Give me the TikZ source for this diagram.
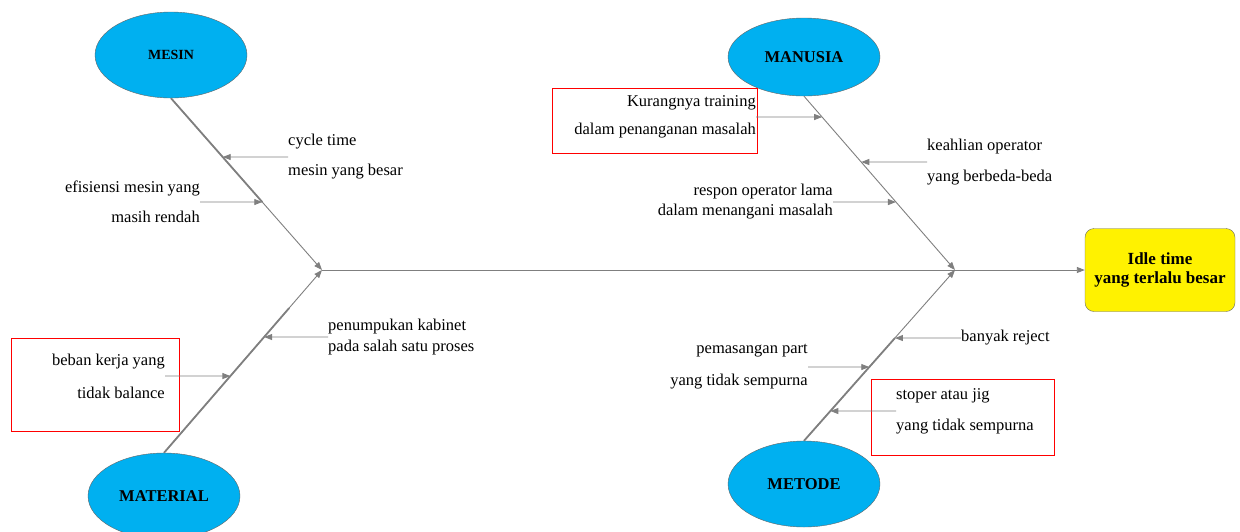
\documentclass[tikz,border=0pt]{standalone}
\usepackage{fontspec}
\setmainfont{Liberation Serif}
\usetikzlibrary{arrows.meta,shapes.geometric,positioning,calc}
\definecolor{birumuda}{HTML}{00B0F0}
\definecolor{garis}{HTML}{7F7F7F}

\begin{document}
\begin{tikzpicture}[x=1pt,y=-1pt,>={Triangle[length=8pt,width=6pt]}]
    \tikzstyle{kategori}=[ellipse,draw=black!60,fill=birumuda,minimum width=152pt,minimum height=86pt,inner sep=0pt,font=\bfseries\fontsize{16.5}{18}\selectfont]
    \tikzstyle{akibat}=[rectangle,rounded corners=9pt,draw=black!60,fill=yellow,minimum width=150pt,minimum height=83pt,align=center,font=\bfseries\fontsize{17}{19}\selectfont]
    \tikzstyle{sebab}=[inner sep=0pt,font=\fontsize{16.5}{30}\selectfont]
    \tikzstyle{kotak merah}=[draw=red,line width=0.8pt]
    \tikzstyle{tulang}=[draw=garis,line width=0.9pt]
    \tikzstyle{tulang tebal}=[draw=garis,line width=1.8pt]
    \tikzstyle{cabang}=[->,draw=garis,line width=0.9pt]

    \useasboundingbox (0,0) rectangle (1240,531);

    % Draw the head and the spine
    \coordinate (jA) at (322,270);
    \coordinate (jB) at (955,270);
    \node[akibat] (efek) at (1160,270) {Idle time\\yang terlalu besar};
    \draw[cabang] (jA) -- (efek);

    % Draw the category nodes
    \node[kategori,font=\bfseries\fontsize{14}{16}\selectfont] (mesin) at (171,55) {MESIN};
    \node[kategori,minimum height=78pt] (manusia) at (804,57) {MANUSIA};
    \node[kategori] (material) at (164,496) {MATERIAL};
    \node[kategori] (metode) at (804,484) {METODE};

    % Red boxes
    \draw[kotak merah] (552,88) rectangle (757,153);
    \draw[kotak merah] (11,338) rectangle (179,431);
    \draw[kotak merah] (871,379) rectangle (1054,455);

    % Cause texts
    \node[sebab,anchor=west,align=left] (ct) at (288,157) {cycle time\\mesin yang besar};
    \node[sebab,anchor=east,align=right] (ef) at (200,202) {efisiensi mesin yang\\masih rendah};
    \node[sebab,anchor=east,align=right,font=\fontsize{16.5}{28}\selectfont] (kt) at (756,117) {Kurangnya training\\dalam penanganan masalah};
    \node[sebab,anchor=west,align=left,font=\fontsize{16.5}{31}\selectfont] (ko) at (927,162) {keahlian operator\\yang berbeda-beda};
    \node[sebab,anchor=east,align=right,font=\fontsize{16.5}{20}\selectfont] (ro) at (833,202) {respon operator lama\\dalam menangani masalah};
    \node[sebab,anchor=west,align=left,font=\fontsize{16.5}{21}\selectfont] (pk) at (328,337) {penumpukan kabinet\\pada salah satu proses};
    \node[sebab,anchor=east,align=right,font=\fontsize{16.5}{33}\selectfont] (bk) at (165,376) {beban kerja yang\\tidak balance};
    \node[sebab,anchor=west] (br) at (961,338) {banyak reject};
    \node[sebab,anchor=east,align=right,font=\fontsize{16.5}{32}\selectfont] (pp) at (808,367) {pemasangan part\\yang tidak sempurna};
    \node[sebab,anchor=west,align=left,font=\fontsize{16.5}{31}\selectfont] (sj) at (896,411) {stoper atau jig\\yang tidak sempurna};

    % Points where the causes meet the bones
    \coordinate (tCt) at (intersection of ct.west--ct.east and mesin.south--jA);
    \coordinate (tEf) at (intersection of ef.west--ef.east and mesin.south--jA);
    \coordinate (tKt) at (intersection of kt.west--kt.east and manusia.south--jB);
    \coordinate (tKo) at (intersection of ko.west--ko.east and manusia.south--jB);
    \coordinate (tRo) at (intersection of ro.west--ro.east and manusia.south--jB);
    \coordinate (tPk) at (intersection of pk.west--pk.east and material.north--jA);
    \coordinate (tBk) at (intersection of bk.west--bk.east and material.north--jA);
    \coordinate (tBr) at (intersection of br.west--br.east and metode.north--jB);
    \coordinate (tPp) at (intersection of pp.west--pp.east and metode.north--jB);
    \coordinate (tSj) at (intersection of sj.west--sj.east and metode.north--jB);

    % Connect every category to the spine
    \foreach \kepala/\sendi in {mesin.south/jA, material.north/jA, manusia.south/jB, metode.north/jB}
        \draw[tulang,->] (\kepala) -- (\sendi);
    \draw[tulang tebal] (mesin.south) -- (tEf);
    \draw[tulang tebal] (material.north) -- ($(material.north)!1.25!(tPk)$);
    \draw[tulang tebal] (metode.north) -- (tBr);

    % Connect every cause to its bone
    \foreach \sebab/\titik in {ct/tCt, ko/tKo, pk/tPk, br/tBr, sj/tSj}
        \draw[cabang] (\sebab.west) -- (\titik);
    \foreach \sebab/\titik in {ef/tEf, kt/tKt, ro/tRo, bk/tBk, pp/tPp}
        \draw[cabang] (\sebab.east) -- (\titik);

\end{tikzpicture}
\end{document}
